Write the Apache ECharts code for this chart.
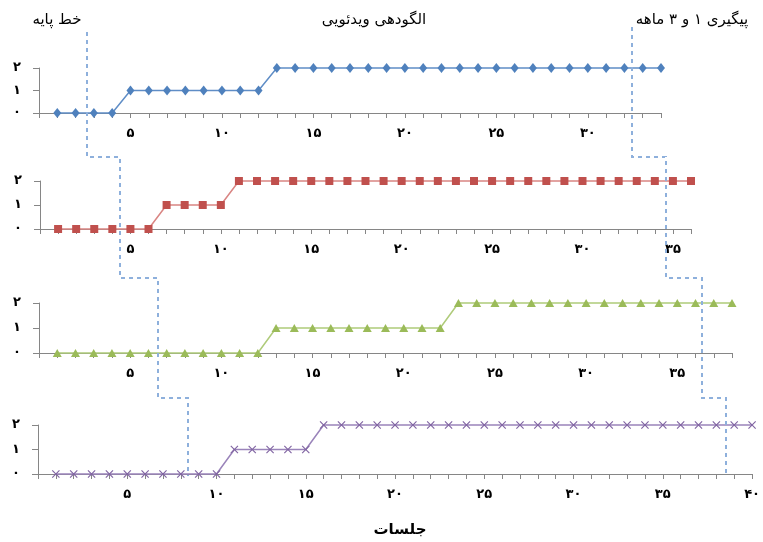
<!DOCTYPE html>
<html>
<head>
<meta charset="utf-8">
<script src="https://cdn.jsdelivr.net/npm/echarts@6/dist/echarts.min.js"></script>
<style>
html,body{margin:0;padding:0;background:#fff;}
#c{width:763px;height:542px;}
</style>
</head>
<body>
<div id="c"></div>
<script>
// ---- data ----
var persianDigits = ['۰','۱','۲','۳','۴','۵','۶','۷','۸','۹'];
var phaseTitles = ['خط پایه', 'الگودهی ویدئویی', 'پیگیری ۱ و ۳ ماهه'];
var xAxisTitle = 'جلسات';
var panel1Values = [0,0,0,0,1,1,1,1,1,1,1,1,2,2,2,2,2,2,2,2,2,2,2,2,2,2,2,2,2,2,2,2,2,2];
var panel2Values = [0,0,0,0,0,0,1,1,1,1,2,2,2,2,2,2,2,2,2,2,2,2,2,2,2,2,2,2,2,2,2,2,2,2,2,2];
var panel3Values = [0,0,0,0,0,0,0,0,0,0,0,0,1,1,1,1,1,1,1,1,1,1,2,2,2,2,2,2,2,2,2,2,2,2,2,2,2,2];
var panel4Values = [0,0,0,0,0,0,0,0,0,0,1,1,1,1,1,2,2,2,2,2,2,2,2,2,2,2,2,2,2,2,2,2,2,2,2,2,2,2,2,2];
var axisMax = [34, 36, 38, 40];
// phase-change positions (in sessions) per panel
var baselineChange = [2.6, 4.4, 6.5, 8.4];
var followupChange = [32.4, 34.6, 36.35, 38.55];

// ---- styling / layout ----
var FONT = 'DejaVu Sans';
var grids = [
  {left: 39, top: 68, width: 622, height: 45},
  {left: 40, top: 181, width: 651, height: 48},
  {left: 39, top: 303, width: 693, height: 50},
  {left: 38, top: 425, width: 721, height: 49}
];
var markerColors = ['#4F81BD', '#C0504D', '#9BBB59', '#8064A2'];
var lineColors = ['#5F8DC6', '#D98583', '#AFCB7A', '#9A84BA'];
var symbols = ['diamond', 'rect', 'triangle',
  'path://M0,1 L1,0 L5,4 L9,0 L10,1 L6,5 L10,9 L9,10 L5,6 L1,10 L0,9 L4,5 Z'];
var symbolSizes = [[8, 10], 8, [9, 8], 8];
var allValues = [panel1Values, panel2Values, panel3Values, panel4Values];

function toPersian(n) {
  return String(n).split('').map(function (d) { return persianDigits[+d]; }).join('');
}

var option = {
  animation: false,
  grid: grids.map(function (g) { return Object.assign({containLabel: false}, g); }),
  xAxis: grids.map(function (g, i) {
    return {
      type: 'value', gridIndex: i, min: 0, max: axisMax[i], interval: 1,
      axisLine: {show: true, lineStyle: {color: '#868686', width: 1}},
      axisTick: {show: true, length: 5, lineStyle: {color: '#868686'}},
      splitLine: {show: false},
      axisLabel: {
        margin: 14, color: '#000', fontFamily: FONT, fontSize: 13, fontWeight: 'bold',
        showMinLabel: true, showMaxLabel: true,
        formatter: function (v) { return (v > 0 && v % 5 === 0) ? toPersian(v) : ''; }
      }
    };
  }),
  yAxis: grids.map(function (g, i) {
    return {
      type: 'value', gridIndex: i, min: 0, max: 2, interval: 1,
      axisLine: {show: true, lineStyle: {color: '#868686', width: 1}},
      axisTick: {show: true, length: 6, lineStyle: {color: '#868686'}},
      splitLine: {show: false},
      axisLabel: {
        margin: 18, color: '#000', fontFamily: FONT, fontSize: 13, fontWeight: 'bold',
        formatter: function (v) { return toPersian(v); }
      }
    };
  }),
  series: allValues.map(function (vals, i) {
    return {
      type: 'line', xAxisIndex: i, yAxisIndex: i,
      data: vals.map(function (v, k) { return [k + 1, v]; }),
      symbol: symbols[i], symbolSize: symbolSizes[i], showAllSymbol: true,
      lineStyle: {color: lineColors[i], width: 1.5},
      itemStyle: {color: markerColors[i]},
      clip: false
    };
  }),
  graphic: [
    {type: 'text', x: 57, y: 20, style: {text: phaseTitles[0], font: '15px "' + FONT + '"', fill: '#000', align: 'center', verticalAlign: 'middle'}},
    {type: 'text', x: 374, y: 20, style: {text: phaseTitles[1], font: '15px "' + FONT + '"', fill: '#000', align: 'center', verticalAlign: 'middle'}},
    {type: 'text', x: 692, y: 20, style: {text: phaseTitles[2], font: '15px "' + FONT + '"', fill: '#000', align: 'center', verticalAlign: 'middle'}},
    {type: 'text', x: 400, y: 530, style: {text: xAxisTitle, font: 'bold 15px "' + FONT + '"', fill: '#000', align: 'center', verticalAlign: 'middle'}}
  ]
};

var chart = echarts.init(document.getElementById('c'), null, {renderer: 'canvas'});
chart.setOption(option);

// phase-change dashed lines (dashes built as short segments)
var connectorY = [157, 278, 398];
var bottomY = 477;
function phasePath(changes, topY) {
  var pts = [];
  for (var i = 0; i < 4; i++) {
    var px = Math.round(chart.convertToPixel({gridIndex: i}, [changes[i], 0])[0]);
    var y0 = i === 0 ? topY : connectorY[i - 1];
    var y1 = i === 3 ? bottomY : connectorY[i];
    pts.push([px, y0]);
    pts.push([px, y1]);
  }
  return pts;
}
var DASH = 4, GAP = 4;
var zr = chart.getZr();
function addDashedPolyline(pts) {
  var on = true, remain = DASH;
  for (var s = 0; s < pts.length - 1; s++) {
    var a = pts[s], b = pts[s + 1];
    var dx = b[0] - a[0], dy = b[1] - a[1];
    var len = Math.sqrt(dx * dx + dy * dy);
    if (len === 0) continue;
    var ux = dx / len, uy = dy / len, pos = 0;
    while (pos < len) {
      var step = Math.min(remain, len - pos);
      if (on) {
        var x1 = a[0] + ux * pos, y1 = a[1] + uy * pos;
        var x2 = a[0] + ux * (pos + step), y2 = a[1] + uy * (pos + step);
        zr.add(new echarts.graphic.Rect({
          shape: {x: Math.min(x1, x2) - 1, y: Math.min(y1, y2) - 1,
                  width: Math.abs(x2 - x1) + (ux !== 0 ? 0 : 2), height: Math.abs(y2 - y1) + (uy !== 0 ? 0 : 2)},
          style: {fill: '#8EB0DC'},
          z: 100
        }));
      }
      pos += step;
      remain -= step;
      if (remain <= 0) { on = !on; remain = on ? DASH : GAP; }
    }
  }
}
addDashedPolyline(phasePath(baselineChange, 33));
addDashedPolyline(phasePath(followupChange, 28));
</script>
</body>
</html>
